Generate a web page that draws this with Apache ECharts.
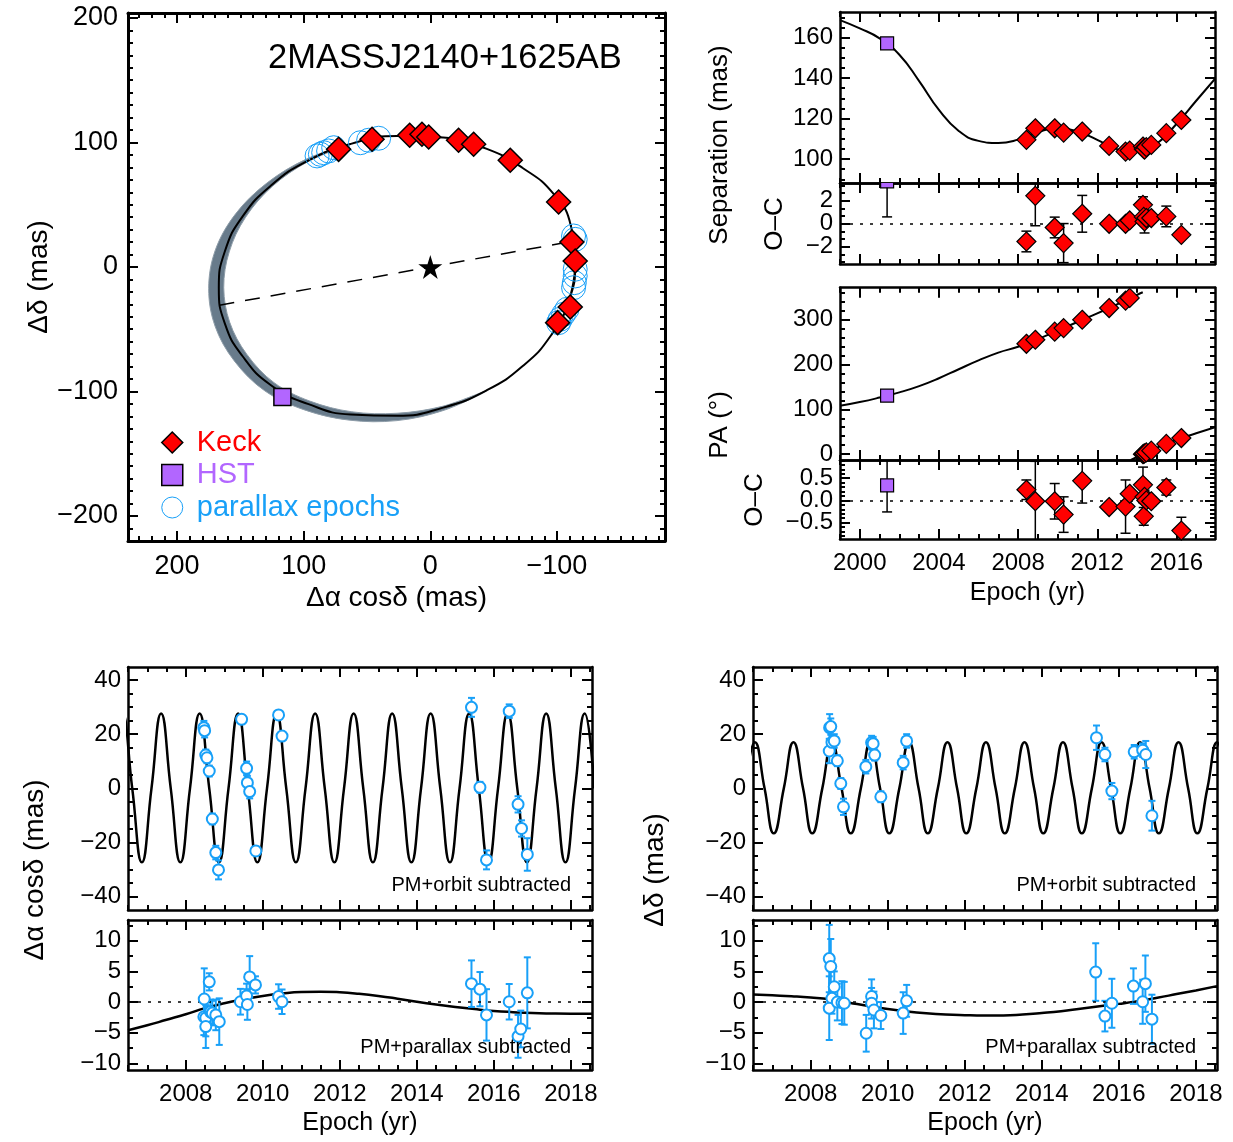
<!DOCTYPE html>
<html>
<head>
<meta charset="utf-8">
<title>2MASSJ2140+1625AB</title>
<script src="https://cdn.jsdelivr.net/npm/echarts@6/dist/echarts.min.js"></script>
<style>
  html, body { margin: 0; padding: 0; background: #fff; }
  #main { width: 1233px; height: 1142px; }
</style>
</head>
<body>
<div id="main"></div>
<script>
// ---------- relative orbit (mas) ----------
var orbitFitX = [-109.6, -114.4, -111.0, -97.5, -73.2, -44.1, -10.1, 26.3, 62.7, 96.7, 125.8, 148.2, 162.2, 167.0, 162.2, 148.2, 125.8, 96.7, 62.7, 26.3, -10.1, -44.1, -73.2, -95.5, -109.6, -114.4, -111.0];
var orbitFitY = [-26.6, 2.8, 33.0, 58.5, 79.3, 95.1, 104.0, 105.3, 98.9, 85.3, 65.4, 40.6, 12.6, -16.8, -45.5, -71.7, -95.0, -110.0, -118.5, -119.5, -113.0, -99.3, -79.4, -54.6, -26.6, 2.8, 33.0];
// outline of the spread of orbit draws (grey crescent): outer edge, then inner edge back
var bandOuterX = [62.7, 97.8, 128.8, 153.7, 169.7, 175.0, 169.9, 154.9, 130.8, 99.9, 64.2, 26.3, -10.8, -44.3];
var bandOuterY = [98.9, 86.7, 67.6, 42.7, 13.7, -17.4, -47.7, -75.3, -99.4, -114.6, -123.0, -123.4, -115.1, -99.5];
var bandInnerX = [-9.7, 26.3, 62.0, 95.2, 123.4, 145.0, 158.4, 163.1, 158.8, 146.0, 124.8, 96.3];
var bandInnerY = [-111.9, -117.5, -116.3, -107.7, -92.9, -70.0, -44.4, -16.5, 12.1, 39.7, 64.7, 84.8];
var majorAxisX = [166.5, -112.0];
var majorAxisY = [-30.7, 20.6];
var keckX = [72.4, 46.0, 16.3, 6.6, 1.3, -22.3, -34.2, -63.1, -101.3, -111.8, -114.4, -110.5, -100.5];
var keckY = [94.5, 102.6, 105.8, 106.6, 104.4, 101.8, 98.6, 85.7, 52.2, 20.1, 4.8, -32.1, -44.7];
var hstX = [116.8];
var hstY = [-104.4];
var parOrbX = [89.4, 86.8, 84.2, 80.3, 76.3, 55.2, 48.7, 40.8, -113.1, -114.4, -114.4, -114.4, -113.7, -113.1, -107.9, -105.2, -102.6, -101.3];
var parOrbY = [89.2, 90.5, 91.8, 93.2, 95.8, 99.8, 101.8, 103.4, 24.9, 22.2, -1.8, -7.2, -12.6, -16.6, -34.0, -38.0, -42.0, -44.7];
var primaryX = [0];
var primaryY = [0];

// ---------- separation / PA vs epoch ----------
var keckEpoch = [2008.42, 2008.87, 2009.85, 2010.30, 2011.24, 2012.60, 2013.43, 2013.64, 2014.31, 2014.35, 2014.39, 2014.48, 2014.73, 2015.49, 2016.25];
var keckSep = [109.5, 115.2, 115.2, 113.1, 113.6, 106.5, 103.7, 104.2, 106.2, 105.0, 104.6, 105.9, 107.0, 112.8, 119.3];
var keckSepRes = [-1.54, 2.43, -0.32, -1.68, 0.87, 0.0, 0.0, 0.29, 1.65, 0.6, 0.2, 0.5, 0.5, 0.64, -0.96];
var keckSepErr = [0.9, 2.6, 0.9, 1.7, 1.6, 0.3, 0.3, 0.3, 0.7, 0.4, 1.0, 0.4, 0.3, 0.9, 0.3];
var keckPA = [245.5, 254.5, 272.5, 280.5, 299.0, 325.0, 341.5, 347.5, 0.0, 1.0, 2.0, 4.0, 8.0, 23.0, 36.0];
var keckPARes = [0.24, -0.02, -0.02, -0.32, 0.44, -0.15, -0.14, 0.15, 0.35, -0.36, 0.08, 0.0, -0.02, 0.29, -0.68];
var keckPAErr = [0.22, 0.9, 0.4, 0.4, 0.5, 0.08, 0.6, 0.08, 0.4, 0.2, 0.15, 0.1, 0.1, 0.17, 0.3];
var hstEpoch = [2001.38];
var hstSep = [157.1];
var hstSepRes = [3.7];
var hstSepErr = [3.1];
var hstPA = [130.4];
var hstPARes = [0.34];
var hstPAErr = [0.6];

var sepFitEpoch = [1999.0, 2000.0, 2001.0, 2002.0, 2003.0, 2004.0, 2005.0, 2006.0, 2007.0, 2008.0, 2009.0, 2010.0, 2011.0, 2012.0, 2013.0, 2014.0, 2015.0, 2016.0, 2017.0, 2018.0];
var sepFitValue = [168.6, 164.5, 159.6, 151.5, 138.5, 124.3, 113.9, 109.0, 107.9, 109.6, 113.3, 115.3, 113.6, 109.5, 104.9, 103.5, 107.6, 117.3, 128.8, 140.2];
var paFitEpoch1 = [1999.0, 2000.0, 2001.0, 2002.0, 2003.0, 2004.0, 2005.0, 2006.0, 2007.0, 2008.0, 2009.0, 2010.0, 2011.0, 2012.0, 2013.0, 2014.0, 2014.3];
var paFitValue1 = [108, 116, 126, 137.5, 151.5, 169, 189, 208.5, 226, 239, 256, 275, 294, 313, 333, 354, 360];
var paFitEpoch2 = [2013.7, 2014.3, 2015.0, 2016.0, 2017.0, 2018.0];
var paFitValue2 = [-12.8, 0, 14, 32, 46.5, 60.5];

// ---------- astrometry vs epoch (mas) ----------
var raOrbSubEpoch = [2008.47, 2008.49, 2008.52, 2008.55, 2008.61, 2008.69, 2008.78, 2008.85, 2009.45, 2009.58, 2009.60, 2009.66, 2009.82, 2010.41, 2010.50, 2015.42, 2015.64, 2015.81, 2016.40, 2016.63, 2016.72, 2016.87];
var raOrbSubValue = [22.4, 21.3, 12.3, 11.3, 6.4, -11.3, -23.7, -30.1, 25.5, 7.4, 2.1, -1.2, -23.1, 27.1, 19.3, 29.9, 0.4, -26.4, 28.5, -5.9, -14.8, -24.4];
var raOrbSubErr = [2.5, 2.5, 2.0, 2.0, 2.0, 2.0, 2.5, 3.5, 1.5, 2.5, 2.5, 2.5, 1.5, 1.5, 1.5, 3.5, 2.0, 3.5, 2.5, 3.0, 3.0, 6.0];
var raParSubEpoch = [2008.48, 2008.47, 2008.52, 2008.52, 2008.61, 2008.64, 2008.69, 2008.78, 2008.87, 2009.42, 2009.58, 2009.60, 2009.66, 2009.81, 2010.41, 2010.50, 2015.42, 2015.64, 2015.81, 2016.40, 2016.63, 2016.70, 2016.87];
var raParSubValue = [0.5, -2.4, -2.6, -4.0, 3.3, -1.6, -1.8, -2.1, -3.2, 0.05, 1.0, -0.4, 4.1, 2.8, 0.9, 0.05, 3.0, 2.1, -2.1, 0.05, -5.6, -4.4, 1.5];
var raParSubErr = [5.0, 3.0, 3.0, 3.5, 1.4, 2.0, 2.0, 2.5, 3.8, 2.1, 2.0, 2.5, 3.4, 1.4, 2.0, 2.0, 3.8, 2.8, 4.2, 2.9, 3.5, 3.0, 5.8];
var decOrbSubEpoch = [2008.48, 2008.49, 2008.52, 2008.55, 2008.61, 2008.69, 2008.78, 2008.85, 2009.43, 2009.58, 2009.62, 2009.66, 2009.82, 2010.40, 2010.49, 2015.42, 2015.64, 2015.82, 2016.40, 2016.62, 2016.70, 2016.86];
var decOrbSubValue = [13.8, 22.4, 22.8, 17.0, 17.5, 10.2, 1.8, -6.8, 8.0, 16.9, 16.5, 12.3, -3.1, 9.5, 17.5, 18.7, 12.5, -1.0, 13.5, 14.1, 12.5, -10.1];
var decOrbSubErr = [4.5, 5.0, 3.0, 2.5, 2.5, 2.0, 2.0, 3.0, 2.5, 2.5, 2.5, 2.0, 2.0, 2.5, 2.5, 4.5, 2.5, 3.0, 2.5, 2.5, 5.0, 5.5];
var decParSubEpoch = [2008.48, 2008.52, 2008.61, 2008.55, 2008.48, 2008.69, 2008.81, 2008.87, 2009.44, 2009.58, 2009.58, 2009.64, 2009.82, 2010.40, 2010.49, 2015.40, 2015.64, 2015.82, 2016.38, 2016.62, 2016.69, 2016.86];
var decParSubValue = [7.1, 5.8, 2.5, 0.6, -1.0, 0.0, -0.1, -0.2, -5.1, 0.9, -0.2, -1.3, -2.2, -1.8, 0.2, 4.9, -2.3, -0.2, 2.6, 0.05, 3.0, -2.8];
var decParSubErr = [5.5, 4.5, 2.5, 2.5, 5.2, 3.0, 3.5, 3.5, 3.0, 2.8, 2.5, 3.0, 2.2, 3.4, 2.6, 4.7, 2.5, 4.0, 2.9, 3.6, 4.6, 4.0];

// parallax model read at its peaks, zero crossings and troughs
var raFitEpoch = [2006.11, 2006.36, 2006.61, 2006.86, 2007.11, 2007.36, 2007.61, 2007.86, 2008.11, 2008.36, 2008.61, 2008.86,
  2009.11, 2009.36, 2009.61, 2009.86, 2010.11, 2010.36, 2010.61, 2010.86, 2011.11, 2011.36, 2011.61, 2011.86,
  2012.11, 2012.36, 2012.61, 2012.86, 2013.11, 2013.36, 2013.61, 2013.86, 2014.11, 2014.36, 2014.61, 2014.86,
  2015.11, 2015.36, 2015.61, 2015.86, 2016.11, 2016.36, 2016.61, 2016.86, 2017.11, 2017.36, 2017.61, 2017.86,
  2018.11, 2018.36, 2018.61];
var raFitValue = [0, 27.6, 0, -27.3, 0, 27.6, 0, -27.3, 0, 27.6, 0, -27.3,
  0, 27.6, 0, -27.3, 0, 27.6, 0, -27.3, 0, 27.6, 0, -27.3,
  0, 27.6, 0, -27.3, 0, 27.6, 0, -27.3, 0, 27.6, 0, -27.3,
  0, 27.6, 0, -27.3, 0, 27.6, 0, -27.3, 0, 27.6, 0, -27.3,
  0, 27.6, 0];
var decFitEpoch = [2006.30, 2006.55, 2006.80, 2007.04, 2007.30, 2007.55, 2007.80, 2008.04, 2008.30, 2008.55, 2008.80,
  2009.04, 2009.30, 2009.55, 2009.80, 2010.04, 2010.30, 2010.55, 2010.80, 2011.04, 2011.30, 2011.55, 2011.80,
  2012.04, 2012.30, 2012.55, 2012.80, 2013.04, 2013.30, 2013.55, 2013.80, 2014.04, 2014.30, 2014.55, 2014.80,
  2015.04, 2015.30, 2015.55, 2015.80, 2016.04, 2016.30, 2016.55, 2016.80, 2017.04, 2017.30, 2017.55, 2017.80,
  2018.04, 2018.30, 2018.55, 2018.80];
var decFitValue = [0, 17.0, 0, -16.6, 0, 17.0, 0, -16.6, 0, 17.0, 0,
  -16.6, 0, 17.0, 0, -16.6, 0, 17.0, 0, -16.6, 0, 17.0, 0,
  -16.6, 0, 17.0, 0, -16.6, 0, 17.0, 0, -16.6, 0, 17.0, 0,
  -16.6, 0, 17.0, 0, -16.6, 0, 17.0, 0, -16.6, 0, 17.0, 0,
  -16.6, 0, 17.0, 0];
var orbitModelEpoch = [2006.5, 2007.0, 2007.5, 2008.0, 2008.5, 2009.0, 2009.5, 2010.0, 2010.5, 2011.0, 2011.5, 2012.0, 2012.5,
  2013.0, 2013.5, 2014.0, 2014.5, 2015.0, 2015.5, 2016.0, 2016.5, 2017.0, 2017.5, 2018.0, 2018.55];
var raOrbitValue = [-4.6, -3.8, -2.9, -2.0, -1.0, -0.2, 0.45, 1.0, 1.4, 1.65, 1.7, 1.6, 1.35,
  1.0, 0.55, 0.05, -0.4, -0.8, -1.15, -1.45, -1.65, -1.8, -1.87, -1.9, -1.9];
var decOrbitValue = [1.25, 1.1, 0.95, 0.75, 0.45, -0.1, -0.65, -1.15, -1.55, -1.85, -2.05, -2.15, -2.2,
  -2.2, -2.05, -1.8, -1.5, -1.1, -0.7, -0.3, 0.15, 0.7, 1.3, 1.9, 2.6];

// tick labels
var orbitXTicks = [200, 100, 0, -100];
var orbitYTicks = [200, 100, 0, -100, -200];
var sepTicks = [100, 120, 140, 160];
var sepResTicks = [-2, 0, 2];
var paTicks = [0, 100, 200, 300];
var paResTicks = [-0.5, 0, 0.5];
var epochTicksTop = [2000, 2004, 2008, 2012, 2016];
var astroTicks = [-40, -20, 0, 20, 40];
var astroResTicks = [-10, -5, 0, 5, 10];
var epochTicksBottom = [2008, 2010, 2012, 2014, 2016, 2018];

var FONT = '"Liberation Sans", Helvetica, Arial, sans-serif';
var RED = '#ff0000', PURPLE = '#b266ff', BLUE = '#18a0f8', BAND = '#687b8b';

function pairs(xs, ys) { return xs.map(function (x, i) { return [x, ys[i]]; }); }
function triples(xs, ys, es) { return xs.map(function (x, i) { return [x, ys[i], es[i]]; }); }
function steps(lo, hi, step) {
  var out = [];
  for (var k = Math.ceil(lo / step - 1e-9); k * step <= hi + 1e-9; k++) out.push(+(k * step).toFixed(6));
  return out;
}
function fmtInt(v) { return String(v).replace('-', '\u2212'); }
function fmt1(v) { return v.toFixed(1).replace('-', '\u2212'); }

var xAxes = [], yAxes = [];

// one axis of a panel; labels (if any) are drawn at labelValues
function axis(g, pos, range, ticks, len, o, labelValues, withLine, withName) {
  var a = {
    type: 'value', gridIndex: g, position: pos, min: range[0], max: range[1], inverse: !!o.inverse,
    axisLine: { show: withLine, onZero: false, lineStyle: { color: '#000', width: o.lw } },
    axisTick: { show: true, inside: true, length: len, customValues: ticks, lineStyle: { color: '#000', width: o.tw } },
    axisLabel: { show: false },
    splitLine: { show: false }
  };
  if (labelValues && labelValues.length) {
    a.axisLabel = { show: true, customValues: labelValues, formatter: o.fmt || fmtInt, color: '#000', hideOverlap: false,
      showMinLabel: true, showMaxLabel: true, fontSize: o.fs, fontFamily: FONT, margin: o.margin };
  }
  if (withName && o.name) {
    a.name = o.name; a.nameLocation = 'middle'; a.nameGap = o.nameGap;
    a.nameTextStyle = { color: '#000', fontSize: o.nameSize, fontFamily: FONT };
  }
  return a;
}

// four framed sides with inward major + minor ticks; close-set labels are split over two axes
function panel(g, xo, yo) {
  var xi = xAxes.length, yi = yAxes.length;
  var xlo = Math.min(xo.range[0], xo.range[1]), xhi = Math.max(xo.range[0], xo.range[1]);
  var xMinor = steps(xlo, xhi, xo.minor), yMinor = steps(yo.range[0], yo.range[1], yo.minor);
  var yMain = yo.major, yAlt = [];
  if (yo.split) {
    yMain = yo.major.filter(function (v, i) { return i % 2 === 0; });
    yAlt = yo.major.filter(function (v, i) { return i % 2 === 1; });
  }
  xAxes.push(axis(g, 'bottom', xo.range, xo.major, xo.len, xo, xo.labels ? xo.major : null, true, true));
  xAxes.push(axis(g, 'top', xo.range, xo.major, xo.len, xo, null, true, false));
  xAxes.push(axis(g, 'bottom', xo.range, xMinor, xo.len / 2, xo, null, false, false));
  xAxes.push(axis(g, 'top', xo.range, xMinor, xo.len / 2, xo, null, false, false));
  yAxes.push(axis(g, 'left', yo.range, yo.major, yo.len, yo, yMain, true, true));
  yAxes.push(axis(g, 'right', yo.range, yo.major, yo.len, yo, null, true, false));
  yAxes.push(axis(g, 'left', yo.range, yMinor, yo.len / 2, yo, yAlt, false, false));
  yAxes.push(axis(g, 'right', yo.range, yMinor, yo.len / 2, yo, null, false, false));
  return { x: xi, y: yi };
}

var grids = [
  { left: 128, top: 13, width: 537, height: 528 },
  { left: 840, top: 12, width: 375, height: 171 },
  { left: 840, top: 183, width: 375, height: 81 },
  { left: 840, top: 287.7, width: 375, height: 172.3 },
  { left: 840, top: 460, width: 375, height: 79 },
  { left: 128, top: 667, width: 464, height: 243 },
  { left: 128, top: 920, width: 464, height: 150 },
  { left: 753, top: 667, width: 464, height: 243 },
  { left: 753, top: 920, width: 464, height: 150 }
].map(function (g) { g.outerBoundsMode = 'none'; g.containLabel = false; return g; });

function ext(o, extra) { var r = {}, k; for (k in o) r[k] = o[k]; for (k in extra) r[k] = extra[k]; return r; }
var topX = { range: [1999, 2017.95], major: epochTicksTop, minor: 1, len: 10, lw: 2.5, tw: 2, fs: 24, margin: 12 };
var botX = { range: [2006.5, 2018.55], major: epochTicksBottom, minor: 0.5, len: 10, lw: 2.5, tw: 2, fs: 24, margin: 12 };

var pOrbit = panel(0,
  { range: [-185.3, 238.7], inverse: true, major: orbitXTicks, minor: 10, len: 10, lw: 3, tw: 2, fs: 27, margin: 12,
    labels: true, name: '\u0394\u03b1 cos\u03b4 (mas)', nameGap: 43, nameSize: 28 },
  { range: [-220.1, 204.0], major: orbitYTicks, minor: 10, len: 10, lw: 3, tw: 2, fs: 27, margin: 10,
    name: '\u0394\u03b4 (mas)', nameGap: 74, nameSize: 28 });
var pSep = panel(1, ext(topX, { labels: false }),
  { range: [88.2, 172.6], major: sepTicks, minor: 5, len: 10, lw: 2.5, tw: 2, fs: 24, margin: 7 });
var pSepRes = panel(2, ext(topX, { labels: false }),
  { range: [-3.5, 3.55], major: sepResTicks, minor: 2 / 3, len: 10, lw: 2.5, tw: 2, fs: 24, margin: 7, split: true });
var pPA = panel(3, ext(topX, { labels: false }),
  { range: [-12.8, 370.2], major: paTicks, minor: 20, len: 10, lw: 2.5, tw: 2, fs: 24, margin: 7 });
var pPARes = panel(4, ext(topX, { labels: true, name: 'Epoch (yr)', nameGap: 42, nameSize: 25 }),
  { range: [-0.87, 0.91], major: paResTicks, minor: 0.1, len: 10, lw: 2.5, tw: 2, fs: 24, margin: 7, fmt: fmt1, split: true });
var pRa = panel(5, ext(botX, { labels: false }),
  { range: [-44.9, 44.8], major: astroTicks, minor: 5, len: 10, lw: 2.5, tw: 2, fs: 24, margin: 7 });
var pRaRes = panel(6, ext(botX, { labels: true, name: 'Epoch (yr)', nameGap: 41, nameSize: 25 }),
  { range: [-11.1, 13.4], major: astroResTicks, minor: 2.5, len: 10, lw: 2.5, tw: 2, fs: 24, margin: 7 });
var pDec = panel(7, ext(botX, { labels: false }),
  { range: [-44.9, 44.8], major: astroTicks, minor: 5, len: 10, lw: 2.5, tw: 2, fs: 24, margin: 7 });
var pDecRes = panel(8, ext(botX, { labels: true, name: 'Epoch (yr)', nameGap: 41, nameSize: 25 }),
  { range: [-11.1, 13.4], major: astroResTicks, minor: 2.5, len: 10, lw: 2.5, tw: 2, fs: 24, margin: 7 });

function on(p, s) { s.xAxisIndex = p.x; s.yAxisIndex = p.y; return s; }
function curve(p, data, width, extra) {
  var s = on(p, { type: 'line', data: data, smooth: 0.5, symbol: 'none', silent: true, z: 2,
    lineStyle: { color: '#000', width: width } });
  for (var k in extra) s[k] = extra[k];
  return s;
}
function errorBars(p, data, color, cap, width) {
  return on(p, {
    type: 'custom', clip: true, silent: true, z: 3, data: data, encode: { x: 0, y: 1 },
    renderItem: function (params, api) {
      var x = api.value(0), y = api.value(1), e = api.value(2);
      var lo = api.coord([x, y - e]), hi = api.coord([x, y + e]);
      var st = { stroke: color, lineWidth: width };
      return { type: 'group', children: [
        { type: 'line', shape: { x1: lo[0], y1: lo[1], x2: hi[0], y2: hi[1] }, style: st },
        { type: 'line', shape: { x1: lo[0] - cap, y1: lo[1], x2: lo[0] + cap, y2: lo[1] }, style: st },
        { type: 'line', shape: { x1: hi[0] - cap, y1: hi[1], x2: hi[0] + cap, y2: hi[1] }, style: st }
      ] };
    }
  });
}
function marks(p, data, symbol, size, fill, border, bw, name) {
  return on(p, { type: 'scatter', name: name, data: data, symbol: symbol, symbolSize: size, silent: true, z: 5,
    itemStyle: { color: fill, borderColor: border, borderWidth: bw, opacity: 1 } });
}
var zeroLine = { silent: true, symbol: ['none', 'none'], label: { show: false },
  lineStyle: { color: '#000', width: 1.5, type: [3, 7] }, data: [{ yAxis: 0 }] };
var STAR = 'path://M50,0 L61.2,34.5 L97.6,34.5 L68.2,55.9 L79.4,90.5 L50,69.1 L20.6,90.5 L31.8,55.9 L2.4,34.5 L38.8,34.5 Z';

var bandOutline = pairs(bandOuterX, bandOuterY).concat(pairs(bandInnerX, bandInnerY));

var series = [
  // orbit
  on(pOrbit, { type: 'custom', silent: true, z: 1, data: [0],
    renderItem: function (params, api) {
      var pts = bandOutline.map(function (p) { return api.coord(p); });
      return { type: 'polygon', shape: { points: pts, smooth: 0.35 },
        style: { fill: BAND, stroke: '#8d9ca8', lineWidth: 1 } };
    } }),
  curve(pOrbit, pairs(orbitFitX, orbitFitY), 2),
  on(pOrbit, { type: 'line', data: pairs(majorAxisX, majorAxisY), symbol: 'none', silent: true, z: 2,
    lineStyle: { color: '#000', width: 1.5, type: [15, 11] } }),
  marks(pOrbit, pairs(parOrbX, parOrbY), 'circle', 24, 'rgba(0,0,0,0)', BLUE, 1, 'parallax epochs'),
  marks(pOrbit, pairs(keckX, keckY), 'diamond', 24, RED, '#000', 1.5, 'Keck'),
  marks(pOrbit, pairs(hstX, hstY), 'rect', 17, PURPLE, '#000', 1.5, 'HST'),
  marks(pOrbit, pairs(primaryX, primaryY), STAR, 24, '#000', '#000', 0, 'primary'),
  // separation
  curve(pSep, pairs(sepFitEpoch, sepFitValue), 2),
  marks(pSep, pairs(hstEpoch, hstSep), 'rect', 13, PURPLE, '#000', 1.2, 'HST sep'),
  marks(pSep, pairs(keckEpoch, keckSep), 'diamond', 19, RED, '#000', 1.2, 'Keck sep'),
  // separation residuals
  errorBars(pSepRes, triples(hstEpoch, hstSepRes, hstSepErr), '#000', 5, 1.5),
  errorBars(pSepRes, triples(keckEpoch, keckSepRes, keckSepErr), '#000', 5, 1.5),
  on(pSepRes, { type: 'custom', clip: true, silent: true, z: 5, data: pairs(hstEpoch, hstSepRes), encode: { x: 0, y: 1 },
    renderItem: function (params, api) {
      var c = api.coord([api.value(0), api.value(1)]);
      return { type: 'rect', shape: { x: c[0] - 6.5, y: c[1] - 6.5, width: 13, height: 13 },
        style: { fill: PURPLE, stroke: '#000', lineWidth: 1.2 } };
    } }),
  ext(marks(pSepRes, pairs(keckEpoch, keckSepRes), 'diamond', 19, RED, '#000', 1.2, 'Keck sep res'), { markLine: zeroLine }),
  // position angle
  curve(pPA, pairs(paFitEpoch1, paFitValue1), 2),
  curve(pPA, pairs(paFitEpoch2, paFitValue2), 2),
  marks(pPA, pairs(hstEpoch, hstPA), 'rect', 13, PURPLE, '#000', 1.2, 'HST PA'),
  marks(pPA, pairs(keckEpoch, keckPA), 'diamond', 19, RED, '#000', 1.2, 'Keck PA'),
  // PA residuals
  errorBars(pPARes, triples(hstEpoch, hstPARes, hstPAErr), '#000', 5, 1.5),
  errorBars(pPARes, triples(keckEpoch, keckPARes, keckPAErr), '#000', 5, 1.5),
  marks(pPARes, pairs(hstEpoch, hstPARes), 'rect', 13, PURPLE, '#000', 1.2, 'HST PA res'),
  ext(marks(pPARes, pairs(keckEpoch, keckPARes), 'diamond', 19, RED, '#000', 1.2, 'Keck PA res'), { markLine: zeroLine }),
  // RA: PM + orbit subtracted
  curve(pRa, pairs(raFitEpoch, raFitValue), 2.5),
  errorBars(pRa, triples(raOrbSubEpoch, raOrbSubValue, raOrbSubErr), BLUE, 3.5, 2),
  marks(pRa, pairs(raOrbSubEpoch, raOrbSubValue), 'circle', 11, '#fff', BLUE, 2, 'ra orb'),
  // RA: PM + parallax subtracted
  curve(pRaRes, pairs(orbitModelEpoch, raOrbitValue), 2.5, { markLine: zeroLine }),
  errorBars(pRaRes, triples(raParSubEpoch, raParSubValue, raParSubErr), BLUE, 3.5, 2),
  marks(pRaRes, pairs(raParSubEpoch, raParSubValue), 'circle', 11, '#fff', BLUE, 2, 'ra par'),
  // Dec: PM + orbit subtracted
  curve(pDec, pairs(decFitEpoch, decFitValue), 2.5),
  errorBars(pDec, triples(decOrbSubEpoch, decOrbSubValue, decOrbSubErr), BLUE, 3.5, 2),
  marks(pDec, pairs(decOrbSubEpoch, decOrbSubValue), 'circle', 11, '#fff', BLUE, 2, 'dec orb'),
  // Dec: PM + parallax subtracted
  curve(pDecRes, pairs(orbitModelEpoch, decOrbitValue), 2.5, { markLine: zeroLine }),
  errorBars(pDecRes, triples(decParSubEpoch, decParSubValue, decParSubErr), BLUE, 3.5, 2),
  marks(pDecRes, pairs(decParSubEpoch, decParSubValue), 'circle', 11, '#fff', BLUE, 2, 'dec par')
];

function label(x, y, text, size, rot, align) {
  return { type: 'text', x: x, y: y, rotation: rot || 0, z: 10, silent: true,
    style: { text: text, fill: '#000', font: size + 'px ' + FONT, align: align || 'center', verticalAlign: 'middle' } };
}

var chart = echarts.init(document.getElementById('main'), null, { renderer: 'canvas' });
chart.setOption({
  animation: false,
  backgroundColor: '#fff',
  textStyle: { fontFamily: FONT },
  title: { text: '2MASSJ2140+1625AB', left: 268, top: 41, padding: 0,
    textStyle: { color: '#000', fontSize: 34.5, fontWeight: 'normal', fontFamily: FONT } },
  legend: {
    orient: 'vertical', left: 161, top: 428, itemWidth: 21, itemHeight: 21, itemGap: 3.5, selectedMode: false,
    padding: 0, textStyle: { fontSize: 29, fontFamily: FONT, lineHeight: 28, padding: [0, 0, 0, 9] },
    data: [
      { name: 'Keck', icon: 'diamond', itemStyle: { color: RED, borderColor: '#000', borderWidth: 1.5 }, textStyle: { color: RED } },
      { name: 'HST', icon: 'rect', itemStyle: { color: PURPLE, borderColor: '#000', borderWidth: 1.5 }, textStyle: { color: PURPLE } },
      { name: 'parallax epochs', icon: 'circle', itemStyle: { color: 'rgba(0,0,0,0)', borderColor: BLUE, borderWidth: 1 }, textStyle: { color: BLUE } }
    ]
  },
  grid: grids,
  xAxis: xAxes,
  yAxis: yAxes,
  series: series,
  graphic: [
    label(571, 885, 'PM+orbit subtracted', 20, 0, 'right'),
    label(1196, 885, 'PM+orbit subtracted', 20, 0, 'right'),
    label(571, 1047, 'PM+parallax subtracted', 20, 0, 'right'),
    label(1196, 1047, 'PM+parallax subtracted', 20, 0, 'right'),
    label(720, 145, 'Separation (mas)', 26, Math.PI / 2),
    label(775, 224, 'O\u2013C', 26, Math.PI / 2),
    label(720, 425, 'PA (\u00b0)', 26, Math.PI / 2),
    label(755, 500, 'O\u2013C', 26, Math.PI / 2),
    label(35, 870, '\u0394\u03b1 cos\u03b4 (mas)', 28, Math.PI / 2),
    label(655, 870, '\u0394\u03b4 (mas)', 28, Math.PI / 2)
  ]
});
</script>
</body>
</html>
